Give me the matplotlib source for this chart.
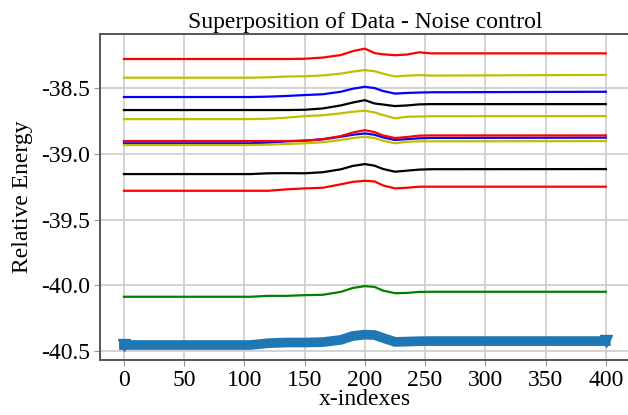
import matplotlib
matplotlib.use('Agg')
import matplotlib.pyplot as plt

x_idx = [0, 105, 120, 135, 150, 165, 180, 190, 200, 208, 215, 225, 235, 245, 255, 400]

red_1 = [-38.279, -38.279, -38.279, -38.279, -38.277, -38.268, -38.249, -38.219,
         -38.200, -38.234, -38.243, -38.250, -38.245, -38.228, -38.236, -38.236]
yel_1 = [-38.421, -38.421, -38.418, -38.412, -38.410, -38.404, -38.390, -38.375,
         -38.363, -38.372, -38.390, -38.412, -38.405, -38.402, -38.405, -38.400]
blue_1 = [-38.568, -38.568, -38.565, -38.560, -38.553, -38.547, -38.528, -38.505,
          -38.490, -38.500, -38.522, -38.542, -38.537, -38.534, -38.532, -38.528]
blk_1 = [-38.667, -38.667, -38.667, -38.667, -38.665, -38.655, -38.632, -38.610,
         -38.592, -38.617, -38.625, -38.637, -38.632, -38.624, -38.622, -38.622]
yel_2 = [-38.736, -38.736, -38.733, -38.725, -38.713, -38.707, -38.692, -38.680,
         -38.672, -38.685, -38.705, -38.730, -38.718, -38.716, -38.714, -38.713]
red_2 = [-38.903, -38.903, -38.903, -38.903, -38.900, -38.888, -38.865, -38.838,
         -38.820, -38.835, -38.860, -38.880, -38.872, -38.862, -38.860, -38.860]
blue_2 = [-38.920, -38.920, -38.915, -38.905, -38.900, -38.890, -38.870, -38.855,
          -38.845, -38.855, -38.875, -38.895, -38.888, -38.882, -38.879, -38.877]
yel_3 = [-38.933, -38.933, -38.930, -38.925, -38.920, -38.912, -38.895, -38.880,
         -38.870, -38.880, -38.900, -38.920, -38.908, -38.905, -38.905, -38.903]
blk_2 = [-39.154, -39.154, -39.148, -39.147, -39.148, -39.140, -39.118, -39.092,
         -39.078, -39.090, -39.115, -39.136, -39.128, -39.120, -39.117, -39.116]
red_3 = [-39.281, -39.281, -39.281, -39.270, -39.263, -39.258, -39.232, -39.213,
         -39.205, -39.210, -39.240, -39.263, -39.258, -39.250, -39.250, -39.250]
green_1 = [-40.087, -40.087, -40.080, -40.080, -40.075, -40.072, -40.050, -40.020,
           -40.006, -40.012, -40.040, -40.060, -40.058, -40.050, -40.049, -40.049]
band = [-40.454, -40.454, -40.440, -40.435, -40.435, -40.432, -40.415, -40.385,
        -40.375, -40.378, -40.400, -40.430, -40.428, -40.425, -40.424, -40.424]

series = [(red_1, 'r'), (yel_1, 'y'), (blue_1, 'b'), (blk_1, 'k'), (yel_2, 'y'),
          (blue_2, 'b'), (yel_3, 'y'), (red_2, 'r'), (blk_2, 'k'), (red_3, 'r'),
          (green_1, 'g')]

plt.rcParams['font.family'] = ['Liberation Serif', 'DejaVu Serif']

fig = plt.figure(figsize=(6.28, 4.15), dpi=100)
ax = fig.add_axes([0.159, 0.1325, 0.844, 0.7855])

for ys, c in series:
    ax.plot(x_idx, ys, color=c, lw=1.6)
ax.plot(x_idx, band, color='#1f77b4', lw=7, marker='v', ms=9, markevery=[0, len(band) - 1])

ax.set_xlim(-20, 420)
ax.set_ylim(-40.568, -38.089)
ax.set_xticks(range(0, 401, 50))
ax.set_yticks([-40.5, -40.0, -39.5, -39.0, -38.5])
ax.set_yticklabels(['-40.5', '-40.0', '-39.5', '-39.0', '-38.5'])
ax.grid(True, color='#cccccc', lw=1.2)
ax.set_axisbelow(True)
for s in ax.spines.values():
    s.set_color('#555555')
    s.set_linewidth(1.4)
ax.tick_params(labelsize=17, length=4, color='#999999', pad=3)

ax.set_title('Superposition of Data - Noise control', fontsize=17, pad=4)
ax.set_xlabel('x-indexes', fontsize=17, labelpad=-1)
ax.set_ylabel('Relative Energy', fontsize=17, labelpad=6)

fig.savefig('out.png', dpi=100)
